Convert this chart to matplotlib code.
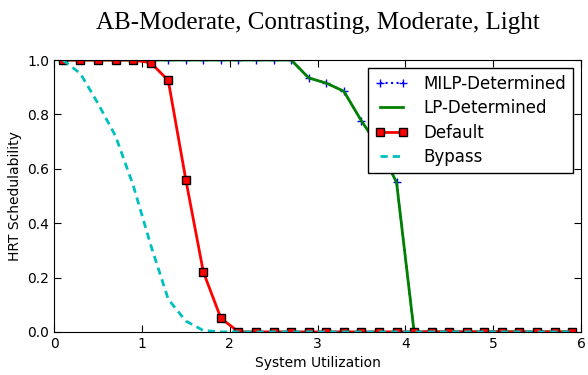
import matplotlib
matplotlib.use("Agg")
from matplotlib import pyplot as plt

# utilization sample points
utilization = [0.1 + 0.2 * i for i in range(30)]

milp = [1.0] * 14 + [0.934, 0.915, 0.885, 0.776, 0.68, 0.55] + [0.0] * 10
lp = list(milp)
default = [1.0, 1.0, 1.0, 1.0, 1.0, 0.99, 0.925, 0.56, 0.22, 0.05] + [0.0] * 20
bypass = [1.0, 0.95, 0.84, 0.72, 0.54, 0.32, 0.12, 0.04, 0.005] + [0.0] * 21

X_TICKS = [0, 1, 2, 3, 4, 5, 6]
Y_TICKS = [0.0, 0.2, 0.4, 0.6, 0.8, 1.0]


def draw_plot():
    fig = plt.figure(figsize=(5.88, 3.75), dpi=100)
    ax = fig.add_axes([0.092, 0.115, 0.896, 0.725])

    ax.plot(utilization, milp, color="b", linestyle=":", marker="+",
            markersize=6, label="MILP-Determined")
    ax.plot(utilization, lp, color="g", linewidth=2, label="LP-Determined")
    ax.plot(utilization, default, color="r", linewidth=2, marker="s",
            markersize=6, markeredgecolor="k", markerfacecolor="r",
            label="Default")
    ax.plot(utilization, bypass, color="c", linewidth=2, linestyle="--",
            dashes=(2.6, 1.8), label="Bypass")

    ax.set_xlim(0, 6)
    ax.set_ylim(0, 1.0)
    ax.set_xticks(X_TICKS)
    ax.set_yticks(Y_TICKS)
    ax.tick_params(direction="in", top=True, right=True, length=5,
                   labelsize=10)
    ax.set_xlabel("System Utilization", fontsize=10)
    ax.set_ylabel("HRT Schedulability", fontsize=10)
    ax.set_title("AB-Moderate, Contrasting, Moderate, Light",
                 family="Liberation Serif", fontsize=18, pad=22)

    leg = ax.legend(loc="upper right", fontsize=12, numpoints=2,
                    fancybox=False, framealpha=1, edgecolor="k",
                    borderaxespad=0.5, handlelength=2.0, handletextpad=0.9,
                    labelspacing=0.38, borderpad=0.4)
    leg.get_frame().set_linewidth(1)
    fig.savefig("out.png", dpi=100)


if __name__ == "__main__":
    draw_plot()
